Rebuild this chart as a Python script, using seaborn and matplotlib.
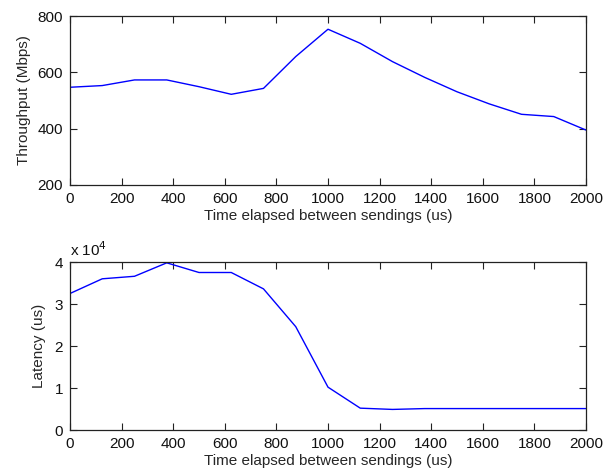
import matplotlib
matplotlib.use("Agg")
import matplotlib.pyplot as plt
import seaborn as sns
import pandas as pd
from matplotlib.ticker import FuncFormatter

# Data
spacing_us = [0, 125, 250, 375, 500, 625, 750, 875, 1000, 1125, 1250, 1375,
              1500, 1625, 1750, 1875, 2000]
throughput_mbps = [547, 553, 573, 573, 549, 522, 543, 656, 753, 703, 638, 582,
                   531, 488, 451, 443, 395]
latency_us = [32500, 36000, 36600, 39800, 37500, 37500, 33600, 24600, 10200,
              5200, 4900, 5100, 5100, 5100, 5100, 5100, 5100]

x_label = "Time elapsed between sendings (us)"
x_ticks = [0, 200, 400, 600, 800, 1000, 1200, 1400, 1600, 1800, 2000]

df = pd.DataFrame({"x": spacing_us, "thr": throughput_mbps, "lat": latency_us})

sns.set_theme(style="white")
plt.rcParams["font.family"] = ["Liberation Sans", "DejaVu Sans"]
plt.rcParams["xtick.direction"] = "in"
plt.rcParams["ytick.direction"] = "in"

FS = 11

fig = plt.figure(figsize=(6.12, 4.74), dpi=100)
ax1 = fig.add_axes([70/612, 1-185/474, 516/612, 169/474])
ax2 = fig.add_axes([70/612, 1-430/474, 516/612, 168/474])

sns.lineplot(data=df, x="x", y="thr", ax=ax1, color="#0000ff", linewidth=1.0)
sns.lineplot(data=df, x="x", y="lat", ax=ax2, color="#0000ff", linewidth=1.0)

for ax in (ax1, ax2):
    ax.set_xlim(0, 2000)
    ax.set_xticks(x_ticks)
    ax.set_xlabel(x_label, fontsize=FS, labelpad=2)
    ax.tick_params(axis="both", which="both", direction="in", length=5,
                   width=0.8, color="#222222", labelsize=FS, pad=5,
                   top=True, right=True, bottom=True, left=True,
                   labelcolor="#111111")
    for s in ax.spines.values():
        s.set_visible(True)
        s.set_color("#222222")
        s.set_linewidth(0.9)
    ax.grid(False)

ax1.set_ylim(200, 800)
ax1.set_yticks([200, 400, 600, 800])
ax1.set_ylabel("Throughput (Mbps)", fontsize=FS, labelpad=5)

ax2.set_ylim(0, 40000)
ax2.set_yticks([0, 10000, 20000, 30000, 40000])
ax2.yaxis.set_major_formatter(FuncFormatter(lambda v, p: f"{v/1e4:g}"))
ax2.set_ylabel("Latency (us)", fontsize=FS, labelpad=6)
ax2.text(0.0, 1.02, r"x 10$^{4}$", transform=ax2.transAxes, fontsize=FS,
         ha="left", va="bottom", color="#111111")

fig.savefig("out.png", dpi=100)
